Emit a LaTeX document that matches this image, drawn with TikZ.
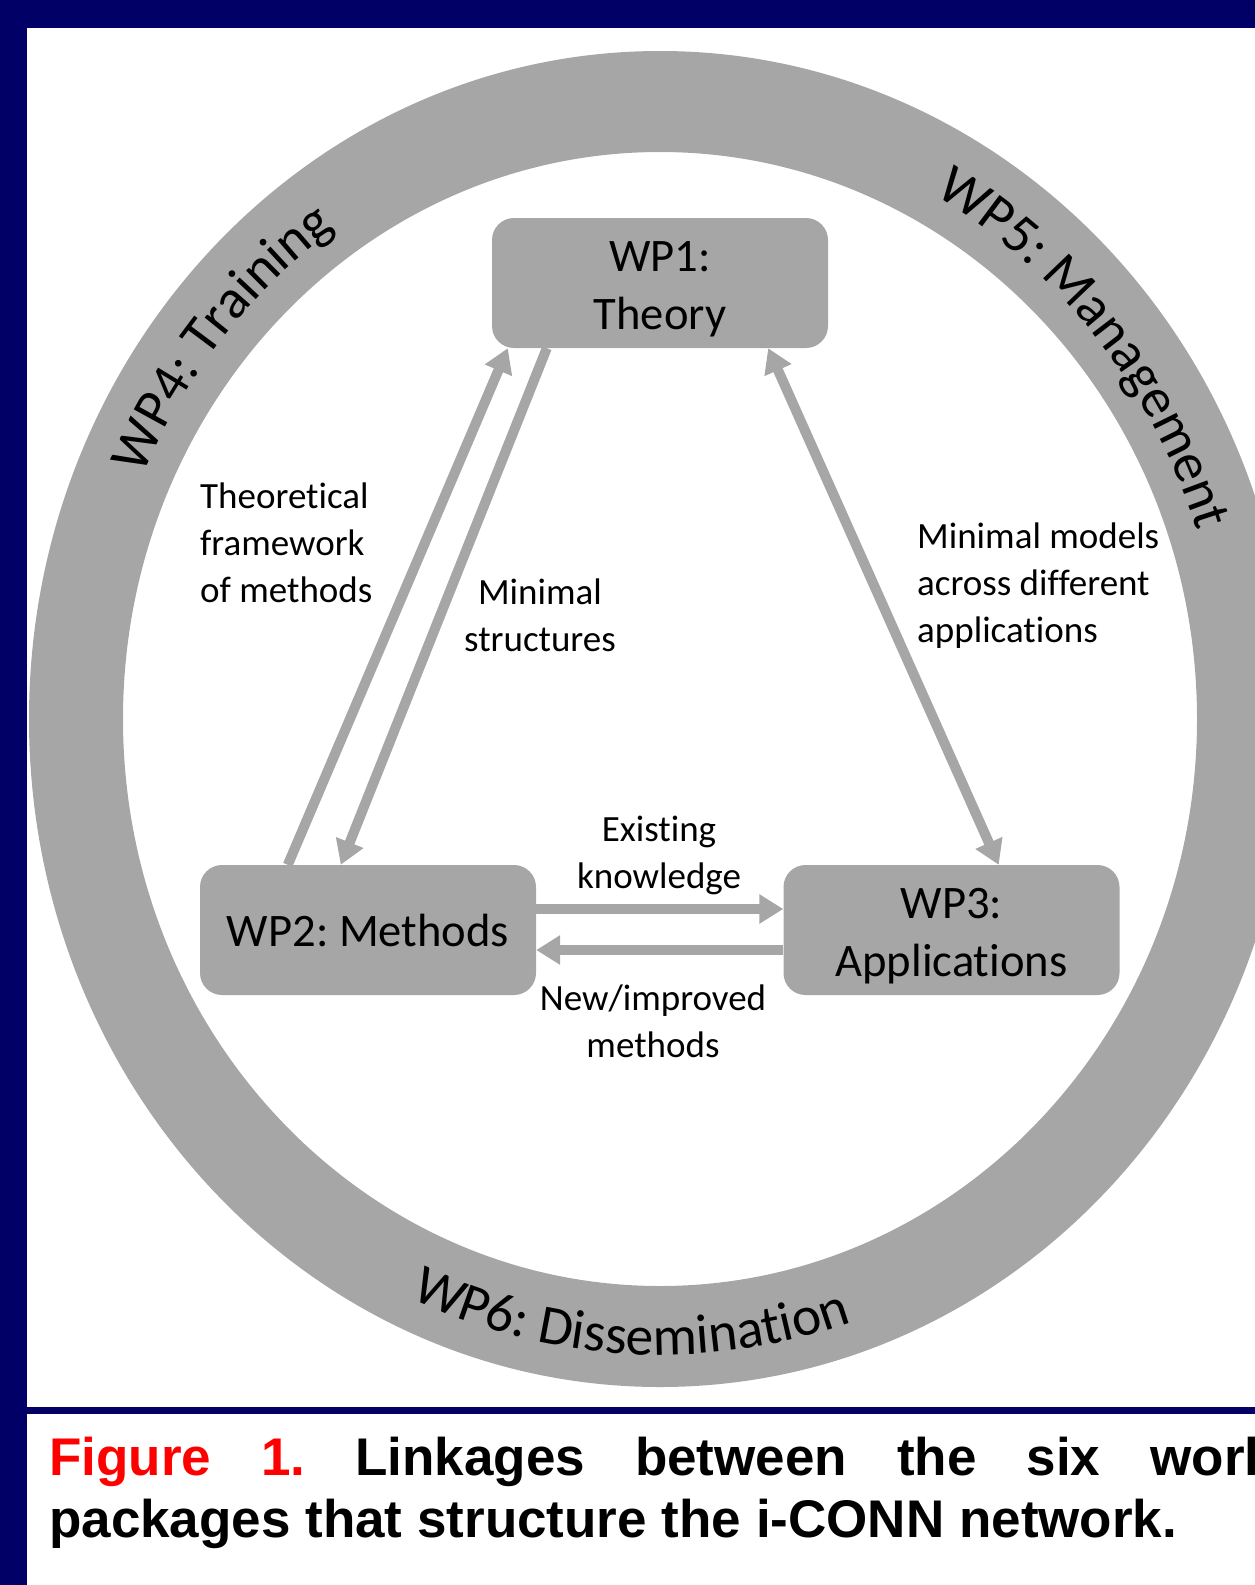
\documentclass[tikz,border=0pt]{standalone}
\usepackage{fontspec}
\setmainfont{Carlito}[Ligatures=NoCommon]
\newfontfamily\capfamily{Liberation Sans}
\usetikzlibrary{arrows.meta,calc,decorations.text}

\definecolor{navyframe}{RGB}{0,0,102}
\definecolor{wpgray}{RGB}{166,166,166}
\definecolor{figred}{RGB}{255,0,0}

\newcommand\boxfont{\fontsize{46.6}{57.6}\selectfont}
\newcommand\lblfont{\fontsize{37}{47}\selectfont}
\newcommand\ringfont{\fontsize{55.5}{62}\selectfont}
\newcommand\toppad{\rule{0pt}{0.92em}}

\tikzset{flowtip/.tip={Triangle[length=24pt, width=28pt]}}

\frenchspacing
\begin{document}
\begin{tikzpicture}[x=1pt, y=-1pt,
    wpbox/.style={fill=wpgray, rounded corners=22pt, minimum width=336pt, minimum height=130pt,
      align=center, inner sep=0pt, font=\boxfont},
    flow/.style={draw=wpgray, line width=10pt, -flowtip},
    lbl/.style={font=\lblfont, inner sep=0pt},
    ringtext/.style={decorate, decoration={text along path, text align=left, text={|\ringfont|#1}}}]

    % page and frame
    \path[use as bounding box] (0,0) rectangle (1255,1585);
    \clip (0,0) rectangle (1255,1585);
    \fill[navyframe] (0,0) rectangle (1255,28);
    \fill[navyframe] (0,0) rectangle (27,1585);
    \fill[navyframe] (27,1407) rectangle (1255,1414);

    % outer ring WP4--WP6
    \coordinate (ctr) at (660,719);
    \fill[wpgray, even odd rule] (ctr) ellipse [x radius=631pt, y radius=668pt]
                                 (ctr) ellipse [x radius=537pt, y radius=567pt];
    \path[ringtext={WP4: Training}] ($(ctr)+(156:566pt and 599pt)$)
        arc[start angle=156, end angle=100, x radius=566pt, y radius=599pt];
    \path[ringtext={WP5: Management}] ($(ctr)+(61:566pt and 599pt)$)
        arc[start angle=61, end angle=0, x radius=566pt, y radius=599pt];
    \path[ringtext={WP6: Dissemination}] ($(ctr)+(245.5:602pt and 636pt)$)
        arc[start angle=245.5, end angle=305, x radius=602pt, y radius=636pt];

    % work packages
    \node[wpbox] (wp1) at (660,283) {\toppad WP1:\\Theory};
    \node[wpbox] (wp2) at (368,930) {WP2: Methods};
    \node[wpbox] (wp3) at (951.5,930) {\toppad WP3:\\Applications};

    % linkages
    \draw[flow] ([xshift=88pt]wp2.north west) -- ([xshift=16pt]wp1.south west);
    \draw[flow] ([xshift=55pt]wp1.south west) -- ([xshift=141pt]wp2.north west);
    \draw[flow, flowtip-flowtip] ([xshift=-60pt]wp1.south east) -- ([xshift=-121pt]wp3.north east);
    \draw[flow] ([yshift=21pt]wp2.east) -- ([yshift=21pt]wp3.west);
    \draw[flow] ([yshift=-20pt]wp3.west) -- ([yshift=-20pt]wp2.east);

    \node[lbl, align=left, anchor=west] (theo) at (200,543) {Theoretical\\framework\\of methods};
    \node[lbl, align=center] (minstr) at (540,615) {Minimal\\structures};
    \node[lbl, align=left, anchor=west] (minmod) at (917,586) {Minimal models\\across different\\applications};
    \node[lbl, align=center] (exist) at (659,855) {Existing\\knowledge};
    \node[lbl, align=center] (newmeth) at (653,1021) {New/improved\\methods};

    % caption
    \node[anchor=north west, inner sep=0pt, text width=1225pt, align=justify,
      font={\capfamily\bfseries\fontsize{53}{62}\selectfont}] (caption) at (49,1437)
      {\hyphenpenalty=10000 \textcolor{figred}{Figure 1.} Linkages between the six work\linebreak
       packages that structure the i-CONN network.};
\end{tikzpicture}
\end{document}
